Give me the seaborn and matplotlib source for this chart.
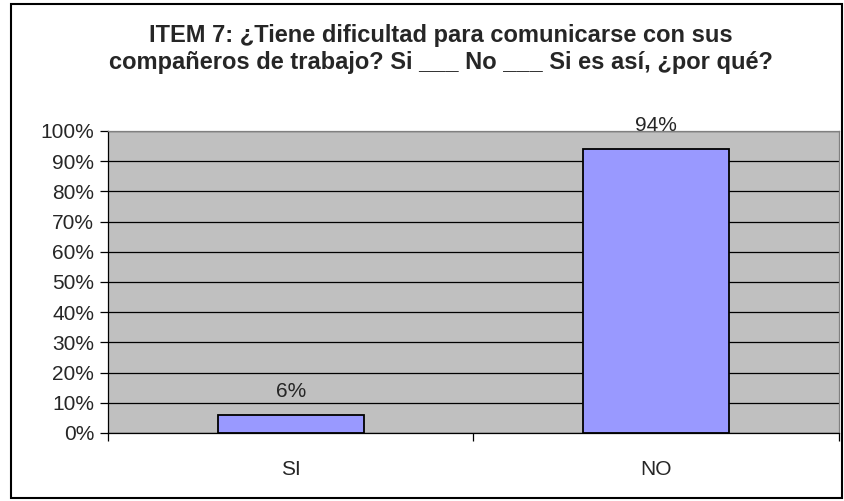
import pandas as pd
import matplotlib.pyplot as plt
import seaborn as sns
from matplotlib.patches import Rectangle

categories = ['SI', 'NO']
values = [6, 94]
y_ticks = [0, 10, 20, 30, 40, 50, 60, 70, 80, 90, 100]
title = 'ITEM 7: ¿Tiene dificultad para comunicarse con sus\ncompañeros de trabajo? Si ___ No ___ Si es así, ¿por qué?'

df = pd.DataFrame({'respuesta': categories, 'porcentaje': values})

sns.set_style('white')
plt.rcParams['font.family'] = ['Liberation Sans', 'DejaVu Sans']

fig = plt.figure(figsize=(8.45, 5.01), dpi=100)
ax = fig.add_axes([108 / 845, 1 - 433 / 501, (839 - 108) / 845, (433 - 131) / 501])

# outer chart border
fig.patches.append(Rectangle((11 / 845, 3 / 501), (842 - 11) / 845, (497 - 3) / 501,
                             transform=fig.transFigure, fill=False, edgecolor='black', linewidth=1.5))

ax.set_facecolor('#C0C0C0')
ax.set_axisbelow(True)
ax.yaxis.grid(True, color='black', linewidth=0.9)

sns.barplot(data=df, x='respuesta', y='porcentaje', color='#9999FF', saturation=1,
            width=0.4, edgecolor='black', linewidth=1.3, ax=ax)

for i, v in enumerate(values):
    ax.annotate(f'{v}%', (i, v), xytext=(0, 10), textcoords='offset points',
                ha='center', va='bottom', fontsize=15)

ax.set_ylim(0, 100)
ax.set_xlim(-0.5, 1.5)
ax.set_yticks(y_ticks)
ax.set_yticklabels([f'{t}%' for t in y_ticks], fontsize=15)
ax.set_xticks([0, 1])
ax.set_xticklabels(categories, fontsize=15)
ax.set_xticks([-0.5, 0.5, 1.5], minor=True)
ax.tick_params(axis='y', left=True, length=6, width=0.9, color='black', pad=4)
ax.tick_params(axis='x', which='major', bottom=False, pad=16)
ax.tick_params(axis='x', which='minor', bottom=True, length=6, width=0.9, color='black')
ax.set_xlabel('')
ax.set_ylabel('')

for side in ['top', 'right']:
    ax.spines[side].set_color('#808080')
    ax.spines[side].set_linewidth(0.9)
for side in ['left', 'bottom']:
    ax.spines[side].set_color('black')
    ax.spines[side].set_linewidth(0.9)

fig.text(441 / 845, 1 - 49 / 501, title, ha='center', va='center', fontsize=17,
         fontweight='bold', linespacing=1.2)

fig.savefig('out.png', dpi=100)
